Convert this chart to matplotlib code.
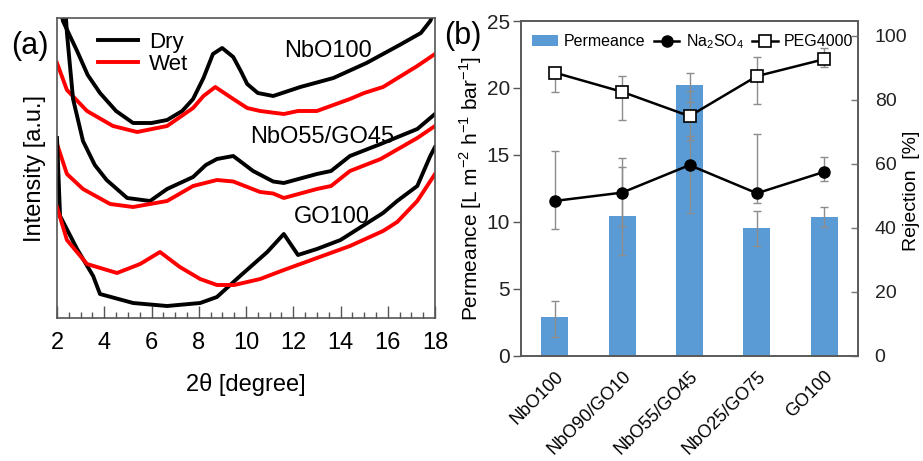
import matplotlib
matplotlib.use("Agg")
import matplotlib.pyplot as plt
from matplotlib.ticker import MultipleLocator

plt.rcParams['font.family'] = ['Liberation Sans', 'DejaVu Sans']
plt.rcParams['mathtext.fontset'] = 'custom'
plt.rcParams['mathtext.rm'] = 'Liberation Sans'

# ---- (a) XRD curves (arbitrary intensity units) ----
dry_nbo_x = [2.0, 2.25, 2.85, 3.3, 3.82, 4.5, 5.22, 6.0, 6.66, 7.3, 7.76, 8.2, 8.6, 8.99,
             9.46, 9.8, 10.05, 10.5, 11.15, 12.3, 13.7, 15.1, 16.5, 17.4, 17.8, 18.0]
dry_nbo_y = [110, 99, 89, 81, 75, 69, 65, 65, 66, 69, 73, 80, 88, 90,
             87, 82, 78, 75, 74, 77, 80, 85, 91, 95, 99, 103]
wet_nbo_x = [2.0, 2.42, 3.27, 4.37, 5.39, 6.66, 7.76, 8.2, 8.7, 9.46, 10.05, 10.6, 11.6,
             12.2, 13.0, 14.4, 15.0, 15.8, 17.25, 18.0]
wet_nbo_y = [85, 76, 69, 64, 62, 64, 70, 74, 77, 73, 70, 69, 68,
             69, 69, 73, 75, 77, 84, 88]

dry_mix_x = [2.3, 2.42, 2.68, 3.1, 3.6, 4.1, 4.97, 5.94, 6.66, 7.76, 8.3, 8.77, 9.46,
             10.3, 11.15, 11.6, 13.0, 13.6, 14.4, 15.7, 17.25, 18.0]
dry_mix_y = [110, 95, 73, 59, 51, 46, 40, 39, 43, 47, 51, 53, 54,
             49, 45.5, 45, 48, 49, 54, 58, 63, 68]
wet_mix_x = [2.0, 2.42, 3.1, 4.25, 5.22, 6.66, 7.76, 8.77, 9.46, 10.6, 11.15, 11.6,
             13.0, 13.6, 14.4, 15.7, 17.25, 18.0]
wet_mix_y = [58, 48, 43, 38, 37, 39, 44, 46, 45.5, 42, 41.5, 40,
             43, 44, 49, 53, 60, 64]

dry_go_x = [2.0, 2.13, 2.85, 3.53, 3.82, 5.22, 6.66, 8.06, 8.77, 9.75, 10.9, 11.6,
            12.2, 13.0, 14.0, 14.4, 15.8, 16.4, 17.25, 17.8, 18.0]
dry_go_y = [60, 34, 23, 14, 8, 5, 4, 5, 7, 14, 22, 28,
            21, 23, 26, 28, 35, 39, 44, 54, 57]
wet_go_x = [2.0, 2.42, 3.27, 4.54, 5.52, 6.36, 7.2, 8.06, 8.77, 9.5, 10.6, 11.6,
            13.0, 14.4, 15.8, 16.4, 17.25, 18.0]
wet_go_y = [37, 26, 18, 15, 18, 22, 17, 13, 11, 11, 13, 16,
            20, 24, 29, 32, 39, 48]

curve_names = ["NbO100", "NbO55/GO45", "GO100"]

# ---- (b) membrane performance ----
membranes = ["NbO100", "NbO90/GO10", "NbO55/GO45", "NbO25/GO75", "GO100"]
permeance = [2.87, 10.44, 20.2, 9.53, 10.34]
perm_low = [1.36, 7.52, 18.95, 8.2, 9.64]
perm_high = [4.04, 14.1, 21.1, 10.8, 11.1]

na2so4 = [48.3, 50.9, 59.5, 50.7, 57.4]
na_low = [39.6, 40.5, 44.6, 47.8, 54.5]
na_high = [63.9, 61.6, 68.7, 69.1, 62.1]

peg = [88.4, 82.4, 74.8, 87.3, 92.6]
peg_low = [82.2, 73.6, 67.3, 78.6, 90.3]
peg_high = [89.8, 87.5, 82.7, 93.2, 96.0]

W, H = 923, 461
fig = plt.figure(figsize=(W / 100, H / 100), dpi=100)

# ================= panel (a) =================
axa = fig.add_axes([57 / W, 1 - 318 / H, 378 / W, 300 / H])
lw = 2.8
axa.plot(dry_nbo_x, dry_nbo_y, color='black', lw=lw, label='Dry')
axa.plot(wet_nbo_x, wet_nbo_y, color='#ff0000', lw=lw, label='Wet')
axa.plot(dry_mix_x, dry_mix_y, color='black', lw=lw)
axa.plot(wet_mix_x, wet_mix_y, color='#ff0000', lw=lw)
axa.plot(dry_go_x, dry_go_y, color='black', lw=lw)
axa.plot(wet_go_x, wet_go_y, color='#ff0000', lw=lw)

axa.set_xlim(2, 18)
axa.set_ylim(0, 100)
axa.set_yticks([])
axa.xaxis.set_major_locator(MultipleLocator(2))
axa.xaxis.set_minor_locator(MultipleLocator(0.5))
axa.tick_params(axis='x', which='major', direction='in', length=9, width=1,
                color='#555555', labelsize=17, pad=10)
axa.tick_params(axis='x', which='minor', direction='in', length=4.5, width=1,
                color='#555555')
for s in axa.spines.values():
    s.set_color('#555555')
    s.set_linewidth(1.2)

axa.set_xlabel("2θ [degree]", fontsize=17, labelpad=14)
axa.set_ylabel("Intensity [a.u.]", fontsize=17, labelpad=8)

axa.text(13.48, 89, curve_names[0], fontsize=17, ha='center', va='center')
axa.text(13.23, 60.3, curve_names[1], fontsize=17, ha='center', va='center')
axa.text(13.65, 33.7, curve_names[2], fontsize=17, ha='center', va='center')

axa.legend(loc='upper left', bbox_to_anchor=(0.055, 1.02), frameon=False, fontsize=16,
           handlelength=1.8, handletextpad=0.5, labelspacing=0.05)

fig.text(30 / W, 1 - 46 / H, "(a)", fontsize=22, ha='center', va='center')

# ================= panel (b) =================
axb = fig.add_axes([521 / W, 1 - 355.5 / H, 337 / W, 334.5 / H])
xs = list(range(len(membranes)))
bar_col = '#5b9bd5'
err_col = '#8c8c8c'

axb.bar(xs, permeance, width=0.4, color=bar_col, label='Permeance', zorder=2)
axb.errorbar(xs, permeance,
             yerr=[[p - l for p, l in zip(permeance, perm_low)],
                   [h - p for p, h in zip(permeance, perm_high)]],
             fmt='none', ecolor=err_col, elinewidth=1, capsize=3, capthick=1, zorder=3)
axb.set_xlim(-0.5, len(membranes) - 0.5)
axb.set_ylim(0, 25)
axb.set_yticks([0, 5, 10, 15, 20, 25])
axb.set_xticks(xs)
axb.set_xticklabels(membranes, rotation=45, ha='right', rotation_mode='anchor')
axb.tick_params(axis='x', length=0, labelsize=13, pad=9)
axb.tick_params(axis='y', direction='out', length=6, width=1, color='#555555',
                labelsize=15, pad=2, labelcolor='#222222')
axb.set_ylabel(r"Permeance [L m$^{\mathregular{-2}}$ h$^{\mathregular{-1}}$ bar$^{\mathregular{-1}}$]",
               fontsize=15, labelpad=2)

ax2 = axb.twinx()
ax2.set_ylim(0, 334.5 / 3.2)
ax2.set_yticks([0, 20, 40, 60, 80, 100])
ax2.tick_params(axis='y', direction='in', length=5, width=1, color='#777777',
                labelsize=14, pad=12, labelcolor='#222222')
fig.text(911 / W, 1 - 191 / H, "Rejection  [%]", fontsize=14, rotation=90,
         ha='center', va='center')

ax2.errorbar(xs, na2so4,
             yerr=[[v - l for v, l in zip(na2so4, na_low)],
                   [h - v for v, h in zip(na2so4, na_high)]],
             fmt='none', ecolor=err_col, elinewidth=1, capsize=3, capthick=1, zorder=2)
ax2.errorbar(xs, peg,
             yerr=[[v - l for v, l in zip(peg, peg_low)],
                   [h - v for v, h in zip(peg, peg_high)]],
             fmt='none', ecolor=err_col, elinewidth=1, capsize=3, capthick=1, zorder=2)
ax2.plot(xs, na2so4, color='black', lw=1.8, marker='o', ms=8, mfc='black',
         mec='black', label=r"Na$_{\mathregular{2}}$SO$_{\mathregular{4}}$", zorder=4)
ax2.plot(xs, peg, color='black', lw=1.8, marker='s', ms=8, mfc='white',
         mec='black', mew=1.2, label='PEG4000', zorder=4)

for a in (axb, ax2):
    for s in a.spines.values():
        s.set_color('#595959')
        s.set_linewidth(1.2)

h1, l1 = axb.get_legend_handles_labels()
h2, l2 = ax2.get_legend_handles_labels()
ax2.legend(h1 + h2, l1 + l2, loc='upper left', bbox_to_anchor=(0.0, 1.0), ncol=3,
           frameon=False, fontsize=11.5, handlelength=1.6, handletextpad=0.4,
           columnspacing=0.5, borderaxespad=0.3)

fig.text(463 / W, 1 - 36 / H, "(b)", fontsize=22, ha='center', va='center')

fig.savefig("out.png", dpi=100)
